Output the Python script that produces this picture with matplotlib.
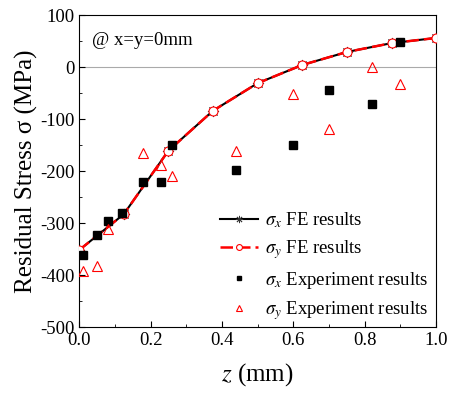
import numpy as np
import matplotlib.pyplot as plt
from matplotlib.ticker import MultipleLocator

# FE results (sigma_x and sigma_y nearly identical)
z_fe = [0.0, 0.125, 0.25, 0.375, 0.5, 0.625, 0.75, 0.875, 1.0]
sx_fe = [-352, -283, -161, -84, -31, 4, 29, 46, 56]
sy_fe = [-352, -283, -161, -84, -31, 4, 29, 46, 56]

# experiment results
z_ex_x = [0.01, 0.05, 0.08, 0.12, 0.18, 0.23, 0.26, 0.44, 0.60, 0.70, 0.82, 0.90]
sx_ex = [-361, -322, -296, -280, -221, -221, -150, -198, -150, -45, -71, 49]
z_ex_y = [0.01, 0.05, 0.08, 0.18, 0.23, 0.26, 0.44, 0.60, 0.70, 0.82, 0.90]
sy_ex = [-392, -383, -312, -166, -188, -210, -162, -52, -120, 0, -33]

plt.rcParams['font.family'] = ['Liberation Serif', 'DejaVu Serif']
plt.rcParams['mathtext.fontset'] = 'stix'
plt.rcParams['axes.unicode_minus'] = False

fig = plt.figure(figsize=(4.52, 3.96), dpi=100)
ax = fig.add_axes([0.175, 0.174, 0.790, 0.788])

ax.axhline(0, color='#aaaaaa', lw=0.8, zorder=0)

ax.plot(z_fe, sx_fe, color='black', lw=1.5, marker=(8, 2, 0), ms=8,
        mec='#333333', mew=0.6, label=r'$\sigma_x$ FE results', zorder=2)
ax.plot(z_fe, sy_fe, color='red', lw=1.8, ls=(0, (5, 2)), marker='o', ms=6.5,
        mfc='white', mec='red', mew=0.8, label=r'$\sigma_y$ FE results', zorder=3)
ax.plot(z_ex_x, sx_ex, ls='none', marker='s', ms=5.5, color='black',
        label=r'$\sigma_x$ Experiment results', zorder=4)
ax.plot(z_ex_y, sy_ex, ls='none', marker='^', ms=7.5, mfc='none', mec='red',
        mew=0.8, label=r'$\sigma_y$ Experiment results', zorder=4)

ax.set_xlim(0, 1.0)
ax.set_ylim(-500, 100)
ax.xaxis.set_major_locator(MultipleLocator(0.2))
ax.xaxis.set_minor_locator(MultipleLocator(0.1))
ax.yaxis.set_major_locator(MultipleLocator(100))
ax.yaxis.set_minor_locator(MultipleLocator(50))
ax.xaxis.set_major_formatter(plt.FuncFormatter(lambda v, p: '%.1f' % v))
ax.tick_params(which='both', direction='in', labelsize=13.5, top=False, right=False)
ax.tick_params(which='major', length=4.5)
ax.tick_params(which='minor', length=2.5)

ax.set_xlabel(r'$z$ (mm)', fontsize=18, labelpad=9)
ax.set_ylabel('Residual Stress σ (MPa)', fontsize=18, labelpad=1)

ax.text(0.035, 0.905, '@ x=y=0mm', transform=ax.transAxes, fontsize=13.5)

ax.legend(loc='lower right', bbox_to_anchor=(1.01, -0.02), frameon=False,
          fontsize=13.5, handlelength=2.0, handletextpad=0.4,
          labelspacing=0.45, borderaxespad=0.2, markerscale=0.65)

fig.savefig('out.png', dpi=100)
